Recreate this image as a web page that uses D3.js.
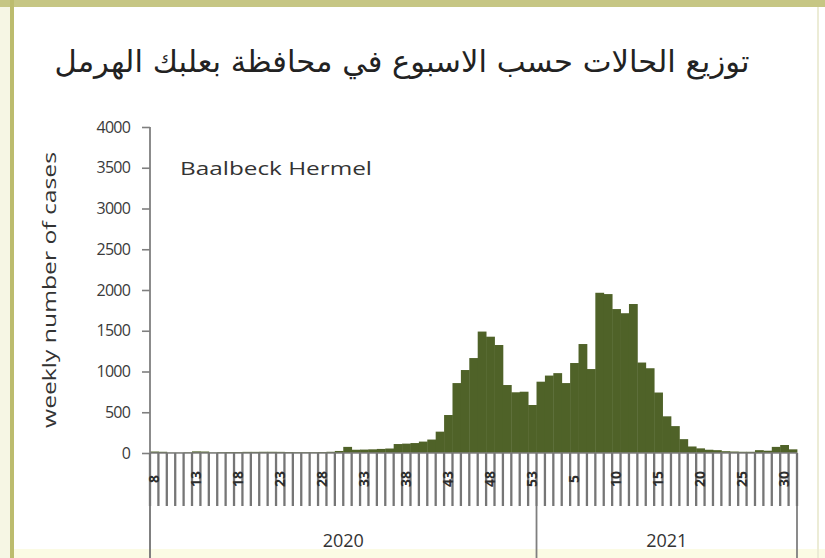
<!DOCTYPE html>
<html>
<head>
<meta charset="utf-8">
<script src="https://cdn.jsdelivr.net/npm/d3@7"></script>
<style>
  html, body { margin: 0; padding: 0; background: #ffffff; }
  svg { display: block; }
</style>
</head>
<body>
<script>
// ---- data ----
const titleText = "توزيع الحالات حسب الاسبوع في محافظة بعلبك الهرمل";
const regionLabel = "Baalbeck Hermel";
const yAxisTitle = "weekly number of cases";
const years = ["2020", "2021"];
const weeks2020 = [8,9,10,11,12,13,14,15,16,17,18,19,20,21,22,23,24,25,26,27,28,29,30,31,32,33,34,35,36,37,38,39,40,41,42,43,44,45,46,47,48,49,50,51,52,53];
const cases2020 = [18,15,4,4,8,20,18,6,10,12,12,14,14,15,15,14,12,10,10,10,12,15,25,75,40,42,45,50,55,110,115,122,140,165,262,466,858,1018,1165,1490,1427,1325,834,745,752,589];
const weeks2021 = [1,2,3,4,5,6,7,8,9,10,11,12,13,14,15,16,17,18,19,20,21,22,23,24,25,26,27,28,29,30,31];
const cases2021 = [875,950,980,858,1104,1337,1030,1966,1950,1766,1715,1828,1110,1040,742,450,330,170,80,57,40,35,22,18,15,15,35,28,75,98,45];
const yTicks = [0,500,1000,1500,2000,2500,3000,3500,4000];
const labelEvery = 5;

// ---- build table ----
const rows = [];
weeks2020.forEach((w, i) => rows.push({ key: "2020-" + w, year: "2020", week: w, value: cases2020[i] }));
weeks2021.forEach((w, i) => rows.push({ key: "2021-" + w, year: "2021", week: w, value: cases2021[i] }));

const W = 825, H = 558;
const svg = d3.select("body").append("svg").attr("width", W).attr("height", H);

// frame
svg.append("rect").attr("x", 0).attr("y", 0).attr("width", W).attr("height", H).attr("fill", "#ffffff");
svg.append("rect").attr("x", 0).attr("y", 0).attr("width", 10).attr("height", H).attr("fill", "#f6f6e4");
svg.append("rect").attr("x", 0).attr("y", 0).attr("width", W).attr("height", 7).attr("fill", "#c6c684");
svg.append("rect").attr("x", 10).attr("y", 0).attr("width", 4).attr("height", H).attr("fill", "#bcbc6e");
svg.append("rect").attr("x", 14).attr("y", 549).attr("width", W - 14).attr("height", 9).attr("fill", "#fbfbe4");
svg.append("rect").attr("x", 817).attr("y", 7).attr("width", 2).attr("height", H).attr("fill", "#ececd6");

const plotL = 150, plotR = 797, plotT = 127, plotB = 453;
const x = d3.scaleBand().domain(rows.map(d => d.key)).range([plotL, plotR]).paddingInner(0).paddingOuter(0);
const y = d3.scaleLinear().domain([0, 4000]).range([plotB, plotT]);

const latin = "Open Sans, Liberation Sans, sans-serif";

// title
svg.append("text")
  .attr("x", 402).attr("y", 72)
  .attr("text-anchor", "middle")
  .attr("direction", "rtl")
  .attr("font-family", "DejaVu Sans")
  .attr("font-size", 30)
  .attr("fill", "#222222")
  .attr("textLength", 695)
  .attr("lengthAdjust", "spacingAndGlyphs")
  .text(titleText);

// bars
svg.append("g").selectAll("rect").data(rows).join("rect")
  .attr("x", d => x(d.key))
  .attr("width", x.bandwidth() + 0.4)
  .attr("y", d => y(d.value))
  .attr("height", d => y(0) - y(d.value))
  .attr("fill", "#4f6228");

// y axis
const yAxis = d3.axisLeft(y).tickValues(yTicks).tickFormat(d3.format("d")).tickSize(8).tickSizeOuter(0).tickPadding(12);
const gy = svg.append("g").attr("transform", `translate(${plotL},0)`).call(yAxis);
gy.select(".domain").remove();
gy.selectAll(".tick line").attr("stroke", "#7f7f7f").attr("stroke-width", 1.6);
gy.selectAll(".tick text").attr("font-family", latin).attr("font-size", 16).attr("fill", "#3a3a3a").attr("letter-spacing", -0.8);
svg.append("line").attr("x1", plotL).attr("x2", plotL).attr("y1", plotT).attr("y2", H)
  .attr("stroke", "#7f7f7f").attr("stroke-width", 1.8);

// x axis baseline
svg.append("line").attr("x1", plotL).attr("x2", plotR).attr("y1", plotB).attr("y2", plotB)
  .attr("stroke", "#7f7f7f").attr("stroke-width", 1.6);

// category tick stripes
const stripeBottom = 506;
const edges = rows.map(d => x(d.key)).concat([plotR]);
svg.append("g").selectAll("line").data(edges).join("line")
  .attr("x1", d => d).attr("x2", d => d)
  .attr("y1", plotB).attr("y2", stripeBottom)
  .attr("stroke", "#767676").attr("stroke-width", 2.3);

// week labels (every 5th category)
const xAxis = d3.axisBottom(x)
  .tickValues(rows.filter((d, i) => i % labelEvery === 0).map(d => d.key))
  .tickFormat(k => k.split("-")[1])
  .tickSize(0);
const gx = svg.append("g").attr("transform", `translate(0,${plotB})`).call(xAxis);
gx.select(".domain").remove();
gx.selectAll(".tick text")
  .attr("font-family", latin)
  .attr("font-size", 14)
  .attr("font-weight", "bold")
  .attr("fill", "#2e2e2e")
  .attr("transform", "rotate(-90)")
  .attr("text-anchor", "middle")
  .attr("dy", "0.36em")
  .attr("x", -26)
  .attr("y", 0);

// year level
const yearEdges = [plotL, x("2021-1"), plotR];
svg.append("g").selectAll("line").data(yearEdges).join("line")
  .attr("x1", d => d).attr("x2", d => d)
  .attr("y1", stripeBottom).attr("y2", H)
  .attr("stroke", "#7f7f7f").attr("stroke-width", 1.8);
svg.append("g").selectAll("text").data(years).join("text")
  .attr("x", (d, i) => (yearEdges[i] + yearEdges[i + 1]) / 2)
  .attr("y", 547)
  .attr("text-anchor", "middle")
  .attr("font-family", latin)
  .attr("font-size", 18)
  .attr("fill", "#333333")
  .text(d => d);

// region label
svg.append("text")
  .attr("x", 180).attr("y", 175)
  .attr("font-family", latin)
  .attr("font-size", 19)
  .attr("fill", "#333333")
  .attr("textLength", 192)
  .attr("lengthAdjust", "spacingAndGlyphs")
  .text(regionLabel);

// y axis title
svg.append("text")
  .attr("transform", "translate(56,290) rotate(-90)")
  .attr("text-anchor", "middle")
  .attr("font-family", latin)
  .attr("font-size", 19)
  .attr("fill", "#333333")
  .attr("textLength", 276)
  .attr("lengthAdjust", "spacingAndGlyphs")
  .text(yAxisTitle);
</script>
</body>
</html>
